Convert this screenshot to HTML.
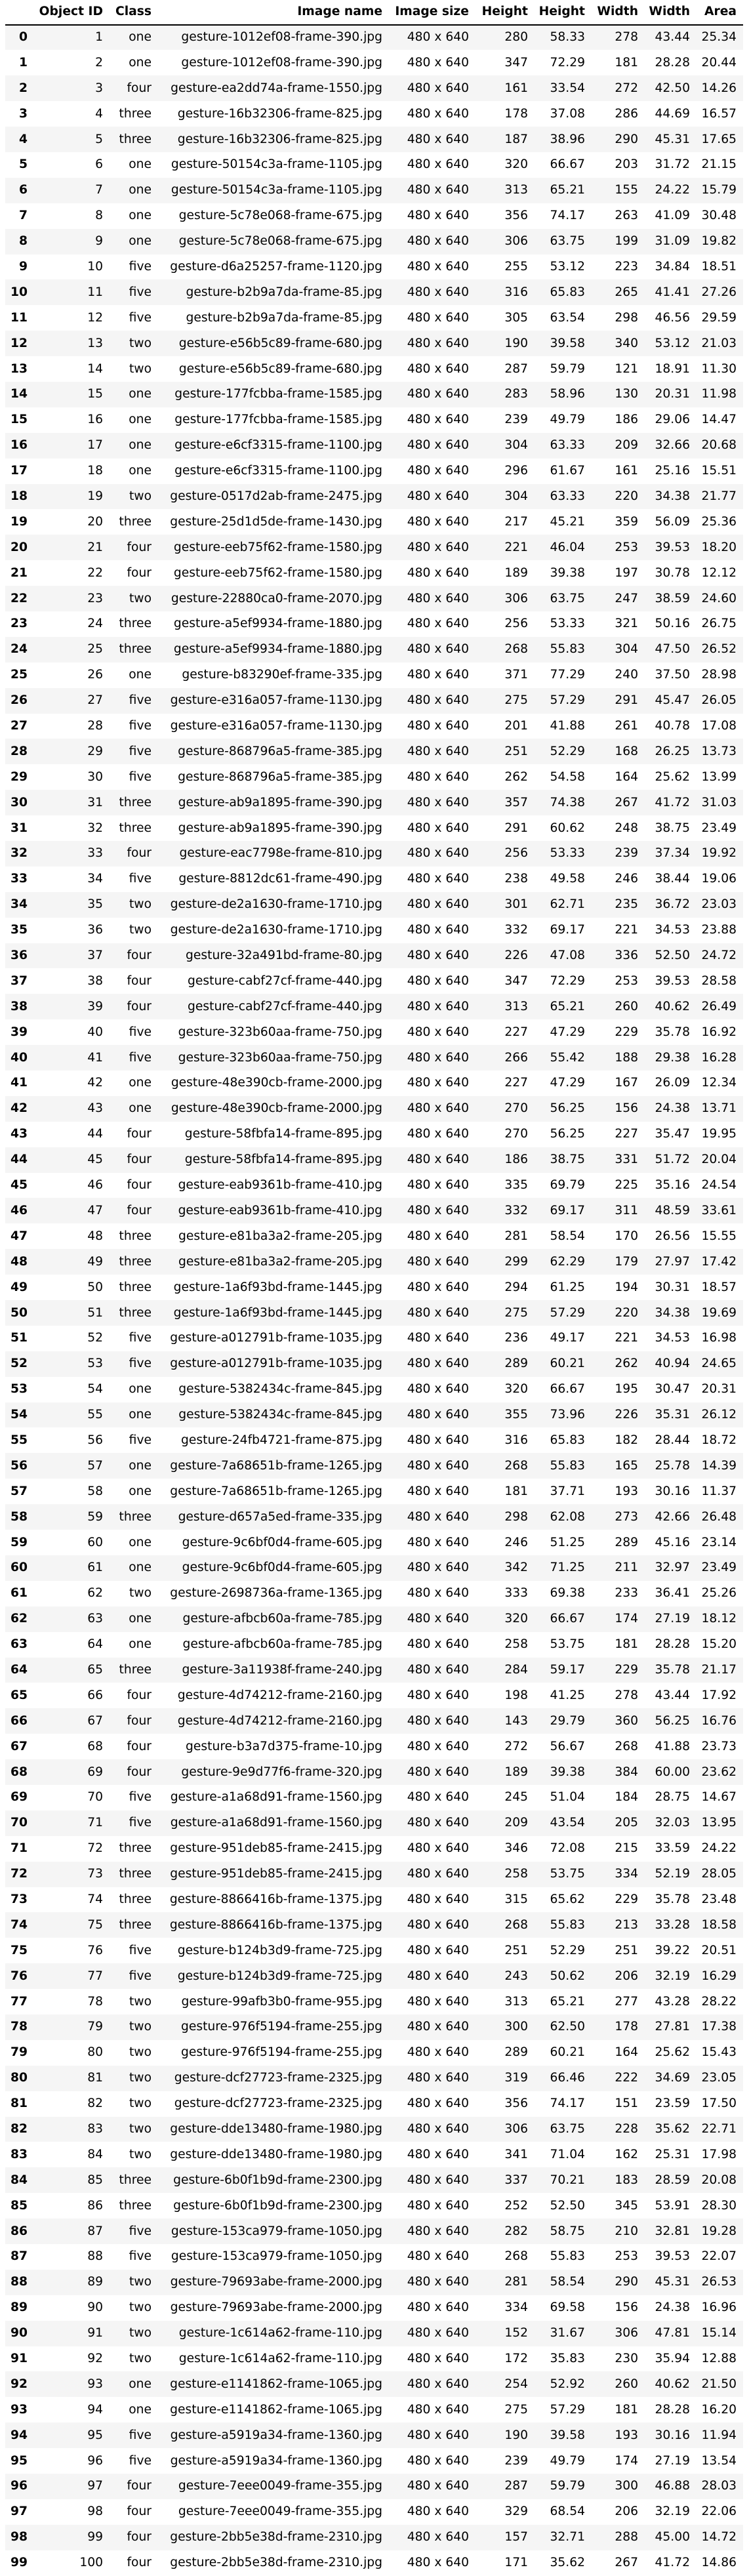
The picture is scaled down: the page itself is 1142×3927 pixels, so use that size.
<!DOCTYPE html>
<html><head><meta charset="utf-8">
<style>
html,body{margin:0;padding:0;background:#fff;}
#tbl{position:relative;width:1142px;height:3927px;overflow:hidden;font-family:"DejaVu Sans","Liberation Sans",sans-serif;font-size:18.7px;color:#000;}
.t{position:absolute;white-space:nowrap;line-height:22px;height:22px;text-align:right;}
.b{font-weight:bold;}
.band{position:absolute;left:8px;width:1125px;background:#f5f5f5;}
#rule{position:absolute;left:8px;top:37px;width:1125px;height:1.6px;background:#000;}
</style></head>
<body>
<div id="tbl">
<div id="rule"></div>
</div>
<script>
const objectIds=[1,2,3,4,5,6,7,8,9,10,11,12,13,14,15,16,17,18,19,20,21,22,23,24,25,26,27,28,29,30,31,32,33,34,35,36,37,38,39,40,41,42,43,44,45,46,47,48,49,50,51,52,53,54,55,56,57,58,59,60,61,62,63,64,65,66,67,68,69,70,71,72,73,74,75,76,77,78,79,80,81,82,83,84,85,86,87,88,89,90,91,92,93,94,95,96,97,98,99,100];
const classes=["one","one","four","three","three","one","one","one","one","five","five","five","two","two","one","one","one","one","two","three","four","four","two","three","three","one","five","five","five","five","three","three","four","five","two","two","four","four","four","five","five","one","one","four","four","four","four","three","three","three","three","five","five","one","one","five","one","one","three","one","one","two","one","one","three","four","four","four","four","five","five","three","three","three","three","five","five","two","two","two","two","two","two","two","three","three","five","five","two","two","two","two","one","one","five","five","four","four","four","four"];
const imageNames=["1012ef08-frame-390","1012ef08-frame-390","ea2dd74a-frame-1550","16b32306-frame-825","16b32306-frame-825","50154c3a-frame-1105","50154c3a-frame-1105","5c78e068-frame-675","5c78e068-frame-675","d6a25257-frame-1120","b2b9a7da-frame-85","b2b9a7da-frame-85","e56b5c89-frame-680","e56b5c89-frame-680","177fcbba-frame-1585","177fcbba-frame-1585","e6cf3315-frame-1100","e6cf3315-frame-1100","0517d2ab-frame-2475","25d1d5de-frame-1430","eeb75f62-frame-1580","eeb75f62-frame-1580","22880ca0-frame-2070","a5ef9934-frame-1880","a5ef9934-frame-1880","b83290ef-frame-335","e316a057-frame-1130","e316a057-frame-1130","868796a5-frame-385","868796a5-frame-385","ab9a1895-frame-390","ab9a1895-frame-390","eac7798e-frame-810","8812dc61-frame-490","de2a1630-frame-1710","de2a1630-frame-1710","32a491bd-frame-80","cabf27cf-frame-440","cabf27cf-frame-440","323b60aa-frame-750","323b60aa-frame-750","48e390cb-frame-2000","48e390cb-frame-2000","58fbfa14-frame-895","58fbfa14-frame-895","eab9361b-frame-410","eab9361b-frame-410","e81ba3a2-frame-205","e81ba3a2-frame-205","1a6f93bd-frame-1445","1a6f93bd-frame-1445","a012791b-frame-1035","a012791b-frame-1035","5382434c-frame-845","5382434c-frame-845","24fb4721-frame-875","7a68651b-frame-1265","7a68651b-frame-1265","d657a5ed-frame-335","9c6bf0d4-frame-605","9c6bf0d4-frame-605","2698736a-frame-1365","afbcb60a-frame-785","afbcb60a-frame-785","3a11938f-frame-240","4d74212-frame-2160","4d74212-frame-2160","b3a7d375-frame-10","9e9d77f6-frame-320","a1a68d91-frame-1560","a1a68d91-frame-1560","951deb85-frame-2415","951deb85-frame-2415","8866416b-frame-1375","8866416b-frame-1375","b124b3d9-frame-725","b124b3d9-frame-725","99afb3b0-frame-955","976f5194-frame-255","976f5194-frame-255","dcf27723-frame-2325","dcf27723-frame-2325","dde13480-frame-1980","dde13480-frame-1980","6b0f1b9d-frame-2300","6b0f1b9d-frame-2300","153ca979-frame-1050","153ca979-frame-1050","79693abe-frame-2000","79693abe-frame-2000","1c614a62-frame-110","1c614a62-frame-110","e1141862-frame-1065","e1141862-frame-1065","a5919a34-frame-1360","a5919a34-frame-1360","7eee0049-frame-355","7eee0049-frame-355","2bb5e38d-frame-2310","2bb5e38d-frame-2310"];
const heightsPx=[280,347,161,178,187,320,313,356,306,255,316,305,190,287,283,239,304,296,304,217,221,189,306,256,268,371,275,201,251,262,357,291,256,238,301,332,226,347,313,227,266,227,270,270,186,335,332,281,299,294,275,236,289,320,355,316,268,181,298,246,342,333,320,258,284,198,143,272,189,245,209,346,258,315,268,251,243,313,300,289,319,356,306,341,337,252,282,268,281,334,152,172,254,275,190,239,287,329,157,171];
const heightsPct=["58.33","72.29","33.54","37.08","38.96","66.67","65.21","74.17","63.75","53.12","65.83","63.54","39.58","59.79","58.96","49.79","63.33","61.67","63.33","45.21","46.04","39.38","63.75","53.33","55.83","77.29","57.29","41.88","52.29","54.58","74.38","60.62","53.33","49.58","62.71","69.17","47.08","72.29","65.21","47.29","55.42","47.29","56.25","56.25","38.75","69.79","69.17","58.54","62.29","61.25","57.29","49.17","60.21","66.67","73.96","65.83","55.83","37.71","62.08","51.25","71.25","69.38","66.67","53.75","59.17","41.25","29.79","56.67","39.38","51.04","43.54","72.08","53.75","65.62","55.83","52.29","50.62","65.21","62.50","60.21","66.46","74.17","63.75","71.04","70.21","52.50","58.75","55.83","58.54","69.58","31.67","35.83","52.92","57.29","39.58","49.79","59.79","68.54","32.71","35.62"];
const widthsPx=[278,181,272,286,290,203,155,263,199,223,265,298,340,121,130,186,209,161,220,359,253,197,247,321,304,240,291,261,168,164,267,248,239,246,235,221,336,253,260,229,188,167,156,227,331,225,311,170,179,194,220,221,262,195,226,182,165,193,273,289,211,233,174,181,229,278,360,268,384,184,205,215,334,229,213,251,206,277,178,164,222,151,228,162,183,345,210,253,290,156,306,230,260,181,193,174,300,206,288,267];
const widthsPct=["43.44","28.28","42.50","44.69","45.31","31.72","24.22","41.09","31.09","34.84","41.41","46.56","53.12","18.91","20.31","29.06","32.66","25.16","34.38","56.09","39.53","30.78","38.59","50.16","47.50","37.50","45.47","40.78","26.25","25.62","41.72","38.75","37.34","38.44","36.72","34.53","52.50","39.53","40.62","35.78","29.38","26.09","24.38","35.47","51.72","35.16","48.59","26.56","27.97","30.31","34.38","34.53","40.94","30.47","35.31","28.44","25.78","30.16","42.66","45.16","32.97","36.41","27.19","28.28","35.78","43.44","56.25","41.88","60.00","28.75","32.03","33.59","52.19","35.78","33.28","39.22","32.19","43.28","27.81","25.62","34.69","23.59","35.62","25.31","28.59","53.91","32.81","39.53","45.31","24.38","47.81","35.94","40.62","28.28","30.16","27.19","46.88","32.19","45.00","41.72"];
const areas=["25.34","20.44","14.26","16.57","17.65","21.15","15.79","30.48","19.82","18.51","27.26","29.59","21.03","11.30","11.98","14.47","20.68","15.51","21.77","25.36","18.20","12.12","24.60","26.75","26.52","28.98","26.05","17.08","13.73","13.99","31.03","23.49","19.92","19.06","23.03","23.88","24.72","28.58","26.49","16.92","16.28","12.34","13.71","19.95","20.04","24.54","33.61","15.55","17.42","18.57","19.69","16.98","24.65","20.31","26.12","18.72","14.39","11.37","26.48","23.14","23.49","25.26","18.12","15.20","21.17","17.92","16.76","23.73","23.62","14.67","13.95","24.22","28.05","23.48","18.58","20.51","16.29","28.22","17.38","15.43","23.05","17.50","22.71","17.98","20.08","28.30","19.28","22.07","26.53","16.96","15.14","12.88","21.50","16.20","11.94","13.54","28.03","22.06","14.72","14.86"];
const headers=["Object ID","Class","Image name","Image size","Height","Height","Width","Width","Area"];

const tbl=document.getElementById('tbl');
const rights=[157,231,583,715,805,892,973,1052,1123];
const colNames=['object-id','class','image-name','image-size','height-px','height-pct','width-px','width-pct','area'];
const ROW0=57, PITCH=38.89;
function txt(text,x,yc,bold){
  const d=document.createElement('div');
  d.className='t'+(bold?' b':'');
  d.style.top=(yc-11)+'px';
  d.style.right=(1142-x)+'px';
  d.textContent=text;
  tbl.appendChild(d);
  return d;
}
headers.forEach((h,j)=>{
  const el=txt(h,rights[j],18,true);
  
  
});
for(let i=0;i<objectIds.length;i++){
  const yc=ROW0+PITCH*i;
  if(i%2===0){
    const band=document.createElement('div');
    band.className='band';
    const top=Math.max(39,yc-PITCH/2);
    band.style.top=top+'px';
    band.style.height=(yc+PITCH/2-top)+'px';
    
    
    tbl.insertBefore(band,tbl.firstChild);
  }
  const idx=txt(String(i),42,yc,true);
  
  
  const vals=[String(objectIds[i]),classes[i],'gesture-'+imageNames[i]+'.jpg','480 x 640',String(heightsPx[i]),heightsPct[i],String(widthsPx[i]),widthsPct[i],areas[i]];
  vals.forEach((v,j)=>{
    const c=txt(v,rights[j],yc,false);
    
    
  });
}
</script>
</body></html>
